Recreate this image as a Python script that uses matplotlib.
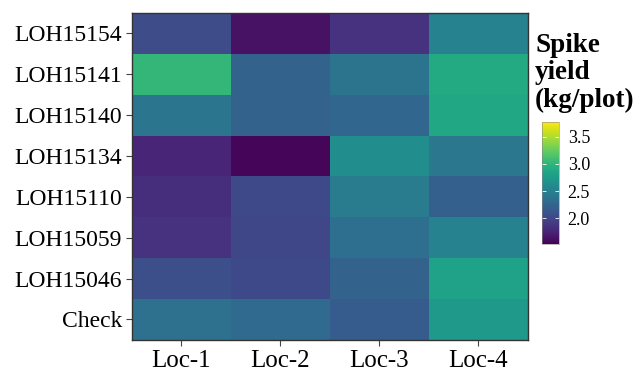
import numpy as np
import matplotlib.pyplot as plt

plt.rcParams['font.family'] = ['Liberation Serif', 'DejaVu Serif']

genotypes = ['LOH15154', 'LOH15141', 'LOH15140', 'LOH15134',
             'LOH15110', 'LOH15059', 'LOH15046', 'Check']
locations = ['Loc-1', 'Loc-2', 'Loc-3', 'Loc-4']

# spike yield (kg/plot), rows = genotypes, cols = locations
loh15154 = [2.04, 1.62, 1.84, 2.51]
loh15141 = [3.02, 2.22, 2.38, 2.89]
loh15140 = [2.40, 2.22, 2.26, 2.87]
loh15134 = [1.75, 1.55, 2.62, 2.42]
loh15110 = [1.82, 2.02, 2.46, 2.20]
loh15059 = [1.84, 2.00, 2.33, 2.51]
loh15046 = [2.06, 2.02, 2.22, 2.82]
check = [2.35, 2.29, 2.17, 2.73]

yield_data = np.array([loh15154, loh15141, loh15140, loh15134,
                       loh15110, loh15059, loh15046, check])

fig = plt.figure(figsize=(6.4, 3.71), dpi=100)
ax = fig.add_axes([0.206, 0.084, 0.619, 0.881])

mesh = ax.pcolormesh(yield_data, cmap='viridis', vmin=1.52, vmax=3.78)
ax.set_ylim(len(genotypes), 0)
ax.set_xlim(0, len(locations))

ax.set_xticks(np.arange(len(locations)) + 0.5)
ax.set_xticklabels(locations, fontsize=18)
ax.set_yticks(np.arange(len(genotypes)) + 0.5)
ax.set_yticklabels(genotypes, fontsize=17)
ax.tick_params(length=4, color='#444444', width=0.8, pad=3)
for s in ax.spines.values():
    s.set_color('#333333')
    s.set_linewidth(1)

cax = fig.add_axes([0.847, 0.342, 0.027, 0.33])
cb = fig.colorbar(mesh, cax=cax, ticks=[2.0, 2.5, 3.0, 3.5])
cb.ax.set_yticklabels(['2.0', '2.5', '3.0', '3.5'], fontsize=13)
cb.ax.tick_params(direction='in', length=3, color='white', width=0.6,
                  left=True, right=True, pad=6)
cb.outline.set_linewidth(0.4)
cb.outline.set_color('#888888')

fig.text(0.836, 0.912, 'Spike\nyield\n(kg/plot)', fontsize=19.5,
         fontweight='bold', va='top', ha='left', linespacing=1.13)

fig.savefig('out.png', dpi=100)
